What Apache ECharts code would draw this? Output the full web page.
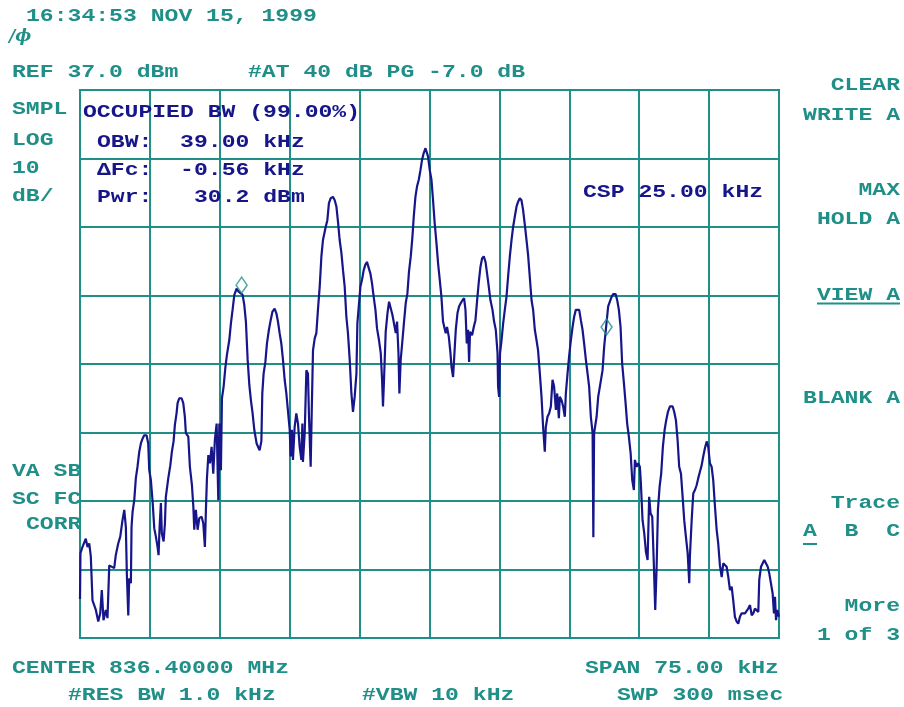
<!DOCTYPE html>
<html><head><meta charset="utf-8">
<script src="https://cdn.jsdelivr.net/npm/echarts@6/dist/echarts.min.js"></script>
<style>html,body{margin:0;padding:0;background:#fff}#c{width:904px;height:707px}</style>
</head><body><div id="c"></div>
<script>
// ---- data (frequency offset from centre in kHz, level in dBm) ----
const REF_LEVEL_DBM = 37;
const SPAN_KHZ = 75;
const DIV_KHZ = 7.5;
const DB_PER_DIV = 10;

const trace = [
[-37.50,-37.3],[-37.45,-30.6],[-37.23,-29.7],[-36.88,-28.5],[-36.69,-29.7],[-36.51,-29.2],[-36.34,-31.1],[-36.16,-37.5],[-35.97,-37.7],[-35.80,-38.9],[-35.54,-40.6],[-35.33,-39.4],[-35.16,-36.0],[-34.98,-40.4],[-34.73,-38.9],[-34.55,-40.1],[-34.36,-32.4],[-34.19,-32.4],[-33.83,-32.8],[-33.66,-30.9],[-33.40,-29.2],[-33.18,-28.2],[-32.94,-25.8],[-32.75,-24.3],[-32.58,-26.8],[-32.47,-33.8],[-32.32,-39.7],[-32.22,-34.3],[-32.04,-35.0],[-31.97,-26.8],[-31.86,-24.6],[-31.68,-22.9],[-31.51,-19.7],[-31.33,-18.0],[-31.14,-15.8],[-30.97,-14.6],[-30.79,-13.9],[-30.61,-13.4],[-30.36,-13.4],[-30.18,-14.6],[-30.07,-18.5],[-29.90,-19.9],[-29.71,-23.1],[-29.53,-27.0],[-29.36,-28.2],[-29.18,-29.7],[-29.07,-30.9],[-28.96,-26.8],[-28.82,-23.3],[-28.72,-27.7],[-28.53,-28.9],[-28.39,-26.3],[-28.29,-22.4],[-28.03,-19.7],[-27.81,-17.8],[-27.64,-15.8],[-27.46,-14.3],[-27.32,-11.9],[-27.14,-10.2],[-27.03,-8.7],[-26.85,-8.0],[-26.60,-8.0],[-26.42,-8.7],[-26.25,-10.7],[-26.14,-13.1],[-25.88,-13.6],[-25.71,-18.0],[-25.49,-20.7],[-25.34,-23.8],[-25.24,-27.2],[-25.07,-24.3],[-24.88,-27.2],[-24.70,-25.5],[-24.45,-25.3],[-24.27,-26.3],[-24.10,-29.7],[-23.99,-24.3],[-23.88,-19.7],[-23.73,-16.3],[-23.56,-17.5],[-23.38,-15.1],[-23.20,-19.0],[-23.03,-14.1],[-22.84,-11.7],[-22.66,-22.9],[-22.55,-11.7],[-22.38,-18.5],[-22.27,-8.0],[-22.09,-6.3],[-21.91,-3.6],[-21.74,-1.7],[-21.48,0.5],[-21.31,2.9],[-21.13,4.9],[-20.94,7.1],[-20.70,8.0],[-20.51,7.6],[-20.34,7.8],[-20.05,7.1],[-19.87,5.6],[-19.70,3.2],[-19.51,-2.4],[-19.33,-6.1],[-19.16,-8.3],[-18.98,-10.2],[-18.80,-12.6],[-18.55,-14.6],
[-18.41,-14.8],[-18.23,-15.6],[-18.04,-14.3],[-17.94,-7.3],[-17.80,-4.4],[-17.61,-2.7],[-17.44,0.0],[-17.23,2.0],[-17.04,3.4],[-16.86,4.6],[-16.62,5.1],[-16.43,4.4],[-16.26,3.2],[-16.08,1.5],[-15.90,0.0],[-15.72,-2.4],[-15.54,-5.3],[-15.36,-7.3],[-15.19,-7.5],[-15.00,-12.6],[-14.90,-16.5],[-14.76,-12.6],[-14.65,-17.0],[-14.47,-12.2],[-14.29,-10.2],[-14.11,-11.7],[-13.93,-15.1],[-13.75,-17.0],[-13.64,-11.7],[-13.58,-17.3],[-13.39,-13.1],[-13.21,-3.9],[-13.04,-4.4],[-12.93,-10.7],[-12.75,-18.0],[-12.64,-10.2],[-12.50,-1.0],[-12.32,0.7],[-12.14,1.5],[-11.97,4.9],[-11.78,8.3],[-11.60,12.7],[-11.43,15.1],[-11.14,17.0],[-10.96,18.0],[-10.79,20.5],[-10.60,21.2],[-10.36,21.4],[-10.17,20.9],[-9.99,20.0],[-9.82,17.8],[-9.64,15.1],[-9.45,13.2],[-9.28,10.7],[-9.10,8.3],[-8.92,3.9],[-8.75,1.5],[-8.56,-2.4],[-8.38,-7.3],[-8.21,-10.0],[-8.03,-7.8],[-7.84,-4.4],[-7.74,2.9],[-7.56,5.9],[-7.41,8.3],[-7.24,9.3],[-7.06,10.7],[-6.88,11.5],[-6.71,11.9],[-6.52,11.7],[-6.34,10.2],[-6.17,8.8],[-5.99,6.8],[-5.80,4.9],[-5.63,2.2],[-5.42,0.5],[-5.23,-1.4],[-5.09,-5.3],[-4.99,-9.2],[-4.88,-5.3],[-4.70,1.7],[-4.51,4.4],[-4.34,6.1],[-4.16,5.9],[-3.98,4.2],[-3.81,4.4],[-3.62,1.5],[-3.48,3.2],[-3.33,-1.4],[-3.23,-7.3],[-3.09,-2.4],[-2.90,0.5],[-2.73,3.2],[-2.55,5.9],[-2.37,7.3],[-2.20,10.5],[-2.01,12.7],[-1.83,15.6],[-1.69,18.5],[-1.51,21.4],[-1.34,22.9],[-1.15,23.9],[-0.97,25.3],[-0.80,26.8],[-0.62,27.8],[-0.43,28.5],[-0.30,28.7],
[-0.16,27.3],[0.03,25.3],[0.21,23.9],[0.38,20.9],[0.56,17.5],[0.75,14.6],[0.92,11.7],[1.10,9.3],[1.28,6.8],[1.45,3.2],[1.64,3.2],[1.74,1.5],[1.88,2.4],[2.07,1.0],[2.25,-1.4],[2.36,-3.4],[2.53,-4.9],[2.71,-5.1],[2.82,2.0],[3.00,4.4],[3.17,5.4],[3.36,5.9],[3.54,6.3],[3.71,6.6],[3.86,4.9],[4.00,0.0],[4.14,2.0],[4.25,-2.7],[4.35,1.7],[4.57,1.2],[4.75,2.4],[4.93,3.4],[5.11,6.3],[5.29,9.0],[5.47,11.2],[5.64,12.4],[5.82,12.7],[6.01,11.9],[6.18,10.2],[6.36,8.3],[6.54,6.3],[6.76,4.9],[6.93,3.2],[7.11,2.0],[7.30,-1.4],[7.36,-6.3],[7.47,-7.8],[7.57,-1.4],[7.73,0.5],[7.90,2.9],[8.08,4.9],[8.26,6.8],[8.43,9.7],[8.62,12.7],[8.80,15.1],[8.97,17.0],[9.15,18.5],[9.34,20.0],[9.51,20.7],[9.69,21.2],[9.87,20.9],[10.04,19.5],[10.23,17.3],[10.41,15.1],[10.58,12.9],[10.76,9.7],[10.95,6.3],[11.12,4.9],[11.30,2.0],[11.48,0.5],[11.65,-1.0],[11.84,-4.4],[12.02,-7.8],[12.19,-12.2],[12.37,-15.8],[12.48,-12.2],[12.66,-10.7],[12.84,-10.2],[13.02,-9.2],[13.20,-5.3],[13.37,-6.3],[13.56,-9.7],[13.70,-7.3],[13.88,-10.9],[13.98,-7.8],[14.17,-8.3],[14.34,-9.2],[14.52,-10.7],[14.63,-7.3],[14.81,-4.4],[14.98,-1.9],[15.17,0.5],[15.35,2.4],[15.52,3.9],[15.70,4.9],[15.89,5.1],[16.06,4.9],[16.24,3.4],[16.42,2.0],[16.59,0.0],[16.78,-2.4],[16.96,-4.4],[17.13,-6.3],[17.31,-10.7],[17.50,-13.1],[17.58,-28.3],[17.66,-13.1],[17.93,-10.7],[18.10,-7.8],[18.28,-6.3],
[18.57,-3.9],[18.74,-0.5],[18.92,2.0],[19.06,3.9],[19.17,5.4],[19.35,6.1],[19.54,6.8],[19.71,7.2],[19.97,7.2],[20.14,6.3],[20.32,4.9],[20.50,2.4],[20.67,-2.9],[20.86,-5.8],[21.04,-8.7],[21.21,-11.7],[21.39,-13.6],[21.58,-16.0],[21.75,-19.9],[21.93,-21.4],[22.04,-17.0],[22.22,-18.0],[22.39,-17.5],[22.57,-18.0],[22.68,-20.4],[22.86,-25.8],[23.04,-27.7],[23.22,-30.4],[23.40,-31.6],[23.57,-22.4],[23.72,-24.8],[23.90,-25.3],[24.08,-32.6],[24.22,-38.9],[24.37,-32.6],[24.51,-24.3],[24.69,-20.9],[24.86,-19.0],[25.04,-15.1],[25.23,-12.6],[25.40,-11.2],[25.58,-10.0],[25.80,-9.2],[26.09,-9.2],[26.26,-10.0],[26.44,-11.2],[26.62,-14.1],[26.79,-18.0],[26.98,-19.0],[27.16,-22.4],[27.33,-25.8],[27.51,-28.2],[27.70,-30.6],[27.87,-35.0],[27.94,-31.1],[28.13,-25.8],[28.30,-21.9],[28.48,-21.4],[28.66,-20.7],[28.83,-19.7],[29.02,-18.7],[29.20,-17.8],[29.37,-16.5],[29.55,-15.3],[29.74,-14.3],[29.91,-15.1],[30.09,-17.5],[30.27,-18.0],[30.44,-19.9],[30.63,-23.8],[30.81,-27.2],[30.98,-29.2],[31.16,-32.4],[31.35,-34.1],[31.52,-32.1],[31.70,-31.9],[31.88,-32.6],[32.06,-34.1],[32.24,-36.0],[32.42,-35.5],[32.59,-37.5],[32.77,-39.9],[32.96,-40.6],[33.13,-40.9],[33.31,-39.9],[33.49,-39.4],[33.67,-39.2],[33.85,-39.4],[34.03,-39.4],[34.20,-38.7],[34.39,-38.2],[34.57,-39.7],[34.74,-39.4],[34.92,-38.7],[35.10,-38.9],[35.28,-39.2],[35.38,-34.5],[35.57,-32.6],[35.75,-32.4],[35.92,-31.6],[36.10,-31.4],[36.29,-32.6],[36.46,-33.6],[36.64,-33.6],[36.82,-36.5],[36.96,-39.4],[37.07,-37.0],[37.18,-40.4],[37.32,-38.9],[37.50,-39.9]
];

const markers = [[-20.16, 8.5], [19.0, 2.4]];

const headerLines = ['16:34:53 NOV 15, 1999', 'REF 37.0 dBm', '#AT 40 dB PG -7.0 dB'];
const leftLabels = ['SMPL', 'LOG', '10', 'dB/', 'VA SB', 'SC FC', 'CORR'];
const obwLines = ['OCCUPIED BW (99.00%)', 'OBW:  39.00 kHz', '\u0394Fc:  -0.56 kHz', 'Pwr:   30.2 dBm'];
const cspLabel = 'CSP 25.00 kHz';
const softkeys = ['CLEAR', 'WRITE A', 'MAX', 'HOLD A', 'VIEW A', 'BLANK A', 'Trace', 'A  B  C', 'More', '1 of 3'];
const footer = ['CENTER 836.40000 MHz', 'SPAN 75.00 kHz', '#RES BW 1.0 kHz', '#VBW 10 kHz', 'SWP 300 msec'];

// ---- rendering ----
const TEAL = '#1f8f88';
const NAVY = '#16168a';
const FONT = "'Liberation Mono', 'DejaVu Sans Mono', monospace";
const FS = 19;
const SX = 1.215;

function txt(s, x, y, align, color) {
  return {
    type: 'text', x: x, y: y, scaleX: SX, scaleY: 1, silent: true, z: 10,
    style: { text: s, fill: color, font: 'bold ' + FS + 'px ' + FONT,
      align: align, verticalAlign: 'middle', textAlign: align, textVerticalAlign: 'middle' }
  };
}
function uline(x1, x2, y) {
  return { type: 'line', silent: true, z: 10,
    shape: { x1: x1, y1: y, x2: x2, y2: y }, style: { stroke: TEAL, lineWidth: 2 } };
}

const graphics = [
  txt(headerLines[0], 26, 16, 'left', TEAL),
  { type: 'text', x: 9, y: 37, silent: true, z: 10,
    style: { text: '/\u03d5', fill: TEAL, font: 'italic bold 17px "DejaVu Serif", serif',
      align: 'left', verticalAlign: 'middle', textAlign: 'left', textVerticalAlign: 'middle' } },
  txt(headerLines[1], 12, 72.5, 'left', TEAL),
  txt(headerLines[2], 248, 72.5, 'left', TEAL),
  txt(leftLabels[0], 12, 109.5, 'left', TEAL),
  txt(leftLabels[1], 12, 140, 'left', TEAL),
  txt(leftLabels[2], 12, 168.5, 'left', TEAL),
  txt(leftLabels[3], 12, 196.5, 'left', TEAL),
  txt(leftLabels[4], 12, 471, 'left', TEAL),
  txt(leftLabels[5], 12, 499.5, 'left', TEAL),
  txt(leftLabels[6], 26, 524.5, 'left', TEAL),
  txt(obwLines[0], 83, 112.5, 'left', NAVY),
  txt(obwLines[1], 97, 142, 'left', NAVY),
  txt(obwLines[2], 97, 170, 'left', NAVY),
  txt(obwLines[3], 97, 197.5, 'left', NAVY),
  txt(cspLabel, 583, 192.5, 'left', NAVY),
  txt(softkeys[0], 900, 85.5, 'right', TEAL),
  txt(softkeys[1], 900, 115, 'right', TEAL),
  txt(softkeys[2], 900, 190, 'right', TEAL),
  txt(softkeys[3], 900, 219, 'right', TEAL),
  txt(softkeys[4], 900, 295, 'right', TEAL),
  uline(817, 900, 303.5),
  txt(softkeys[5], 900, 398.5, 'right', TEAL),
  txt(softkeys[6], 900, 503.5, 'right', TEAL),
  txt(softkeys[7], 900, 531.5, 'right', TEAL),
  uline(803, 817, 544),
  txt(softkeys[8], 900, 606.5, 'right', TEAL),
  txt(softkeys[9], 900, 635, 'right', TEAL),
  txt(footer[0], 12, 668.5, 'left', TEAL),
  txt(footer[1], 585, 668.5, 'left', TEAL),
  txt(footer[2], 68, 695, 'left', TEAL),
  txt(footer[3], 362, 695, 'left', TEAL),
  txt(footer[4], 617, 695, 'left', TEAL)
];

const axisCommon = {
  type: 'value',
  axisLine: { show: true, lineStyle: { color: TEAL, width: 2 } },
  axisTick: { show: false },
  axisLabel: { show: false },
  splitLine: { show: true, lineStyle: { color: TEAL, width: 2 } }
};

const chart = echarts.init(document.getElementById('c'), null, { renderer: 'canvas' });
chart.setOption({
  animation: false,
  backgroundColor: '#ffffff',
  grid: { left: 80, top: 90, width: 699, height: 548, show: true, borderColor: TEAL, borderWidth: 2, backgroundColor: 'transparent' },
  xAxis: Object.assign({}, axisCommon, { min: -SPAN_KHZ / 2, max: SPAN_KHZ / 2, interval: DIV_KHZ }),
  yAxis: Object.assign({}, axisCommon, { min: -8 * DB_PER_DIV, max: 0, interval: DB_PER_DIV }),
  series: [
    {
      type: 'line', name: 'Trace A',
      data: trace.map(function (p) { return [p[0], p[1] - REF_LEVEL_DBM]; }),
      showSymbol: false, symbol: 'none', clip: true, z: 3,
      lineStyle: { color: NAVY, width: 2.2 }
    },
    {
      type: 'scatter', name: 'markers',
      data: markers.map(function (p) { return [p[0], p[1] - REF_LEVEL_DBM]; }),
      symbol: 'diamond', symbolSize: [11, 16], z: 4,
      itemStyle: { color: 'rgba(0,0,0,0)', borderColor: TEAL, borderWidth: 1.5 }
    }
  ],
  graphic: graphics
});
</script>
</body></html>
